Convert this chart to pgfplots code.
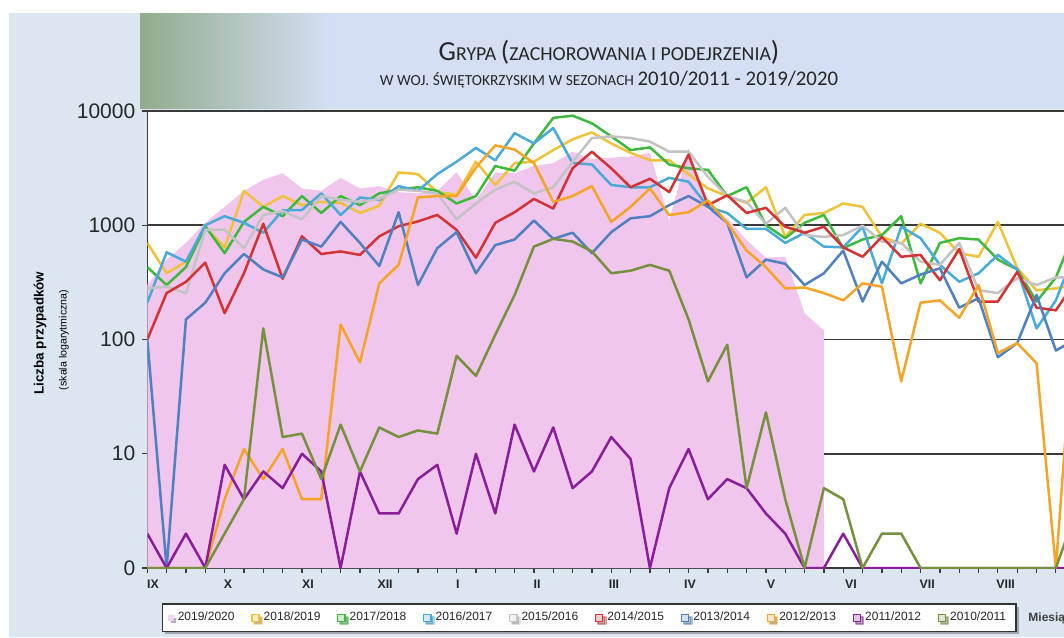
\documentclass[border=0pt]{standalone}
\usepackage{fontspec}
\setmainfont{Liberation Sans}
\newfontfamily\calibri{Carlito}
\usepackage{pgfplots}
\pgfplotsset{compat=1.18}
\usetikzlibrary{shadows}

\definecolor{bgblue}{HTML}{DCE6F1}
\definecolor{bandblue}{HTML}{D4DFF3}
\definecolor{bandgreen}{HTML}{93AA8D}
\definecolor{cPink}{HTML}{F0C6EC}
\definecolor{cYellow}{HTML}{EFC23A}
\definecolor{cGreen}{HTML}{3DB93D}
\definecolor{cCyan}{HTML}{48AAD8}
\definecolor{cGray}{HTML}{C3C3C3}
\definecolor{cRed}{HTML}{D43333}
\definecolor{cBlue}{HTML}{4F80C0}
\definecolor{cOrange}{HTML}{F5A425}
\definecolor{cPurple}{HTML}{8A1E9A}
\definecolor{cOlive}{HTML}{76913E}
\definecolor{gridc}{HTML}{3A3A3A}

\newcommand{\bigA}[1]{{\fontsize{13.8}{15}\selectfont #1}}
\newcommand{\smA}[1]{{\fontsize{9.9}{11}\selectfont #1}}
\newcommand{\bigB}[1]{{\fontsize{10.4}{12}\selectfont #1}}
\newcommand{\smB}[1]{{\fontsize{7.7}{9}\selectfont #1}}

\pgfplotsset{
  sq/.style={legend image code/.code={\draw[draw=#1, fill=#1!25, line width=0.7pt] (0pt,-1.8pt) rectangle (3.6pt,1.8pt);}},
  ser/.style={draw=#1, line width=1.25pt, mark=none, line join=round, sq=#1},
}

\begin{document}
\begin{tikzpicture}
\useasboundingbox (0,0) rectangle (532pt,-318.5pt);
\clip (0,0) rectangle (532pt,-318.5pt);
\fill[white] (0,0) rectangle (532pt,-318.5pt);
\fill[bgblue] (4.5pt,-6.5pt) rectangle (532pt,-318.5pt);
\shade[left color=bandgreen, right color=bandblue] (70pt,-6.5pt) rectangle (165pt,-54pt);
\fill[bandblue] (165pt,-6.5pt) rectangle (532pt,-54pt);

\node[font=\calibri, anchor=base, text=black!85] at (304.5pt,-30pt) {\bigA{G}\smA{RYPA }\bigA{(}\smA{ZACHOROWANIA I PODEJRZENIA}\bigA{)}};
\node[font=\calibri, anchor=base, text=black!85] at (304.5pt,-42.5pt) {\smB{W WOJ. ŚWIĘTOKRZYSKIM W SEZONACH }\bigB{2010/2011 - 2019/2020}};

\node[rotate=90, font=\bfseries\fontsize{6.7}{8}\selectfont] at (20pt,-166.5pt) {Liczba przypadków};
\node[rotate=90, font=\fontsize{5.3}{6}\selectfont] at (32pt,-170pt) {(skala logarytmiczna)};
\node[anchor=west, inner sep=0pt, font=\bfseries\fontsize{6}{7}\selectfont, text=black!75] at (514pt,-309pt) {Miesiąc};

\begin{axis}[
  at={(73.65pt,-284pt)}, anchor=south west,
  scale only axis, width=458.35pt, height=228.5pt,
  xmin=0, xmax=47.42, ymin=1, ymax=10000, ymode=log,
  axis background/.style={fill=white},
  axis x line*=bottom, axis y line*=left,
  axis line style={gridc, line width=0.75pt},
  ymajorgrids, major grid style={gridc, line width=0.75pt},
  yminorticks=false,
  tick align=outside,
  major tick length=2.5pt,
  tick style={gridc, line width=0.6pt},
  xtick={0,...,48}, xticklabels={},
  ytick={1,10,100,1000,10000}, yticklabels={0,10,100,1000,10000},
  yticklabel style={font=\fontsize{10.5}{12}\selectfont, text=black!85},
  /pgf/number format/assume math mode=true,
  extra x ticks={0.3,4.17,8.31,12.3,16.07,20.16,24.14,28.07,32.26,36.4,40.34,44.4},
  extra x tick labels={IX,X,XI,XII,I,II,III,IV,V,VI,VII,VIII},
  extra x tick style={major tick length=0pt, tick label style={font=\bfseries\fontsize{6.2}{7}\selectfont, text=black!85, yshift=-2.5pt}},
  legend columns=10,
  legend style={at={(0.482,-0.109)}, anchor=center, draw=black!80, line width=0.6pt, fill=white,
    font=\fontsize{6}{7}\selectfont, text=black!85,
    drop shadow={shadow xshift=1.3pt, shadow yshift=-1.3pt, fill=black!60},
    /tikz/every odd column/.append style={column sep=0pt},
    /tikz/every even column/.append style={column sep=6.3pt}},
]
% 2019/2020 (area)
\addplot[draw=none, fill=cPink, legend image code/.code={\fill[cPink!80] (0.4pt,-1.4pt) rectangle (3.2pt,1.4pt);}] coordinates {
(0,300)(1,500)(2,700)(3,1050)(4,1450)(5,2000)(6,2500)(7,2850)(8,2100)(9,2000)
(10,2600)(11,2100)(12,2200)(13,1950)(14,1900)(15,2000)(16,2900)(17,1670)(18,2900)(19,2850)
(20,3300)(21,3500)(22,4400)(23,3800)(24,3900)(25,4000)(26,4300)(27,1100)(28,4700)(29,1350)
(30,1150)(31,740)(32,520)(33,530)(34,170)(35,120)} \closedcycle;
\addlegendentry{2019/2020}
% 2018/2019
\addplot[ser=cYellow] coordinates {
(0,700)(1,380)(2,480)(3,970)(4,640)(5,2000)(6,1450)(7,1800)(8,1500)(9,1600)
(10,1570)(11,1280)(12,1480)(13,2900)(14,2800)(15,1950)(16,1850)(17,3600)(18,2250)(19,3500)
(20,3600)(21,4550)(22,5650)(23,6500)(24,5200)(25,4300)(26,3700)(27,3700)(28,2800)(29,2100)
(30,1800)(31,1570)(32,2150)(33,790)(34,1230)(35,1280)(36,1550)(37,1450)(38,790)(39,690)
(40,1030)(41,860)(42,570)(43,530)(44,1070)(45,420)(46,270)(47,280)(48,300)};
\addlegendentry{2018/2019}
% 2017/2018
\addplot[ser=cGreen] coordinates {
(0,430)(1,300)(2,430)(3,980)(4,570)(5,1070)(6,1450)(7,1200)(8,1800)(9,1280)
(10,1800)(11,1500)(12,1900)(13,2050)(14,2150)(15,2000)(16,1550)(17,1800)(18,3300)(19,3000)
(20,5200)(21,8700)(22,9100)(23,7800)(24,6000)(25,4550)(26,4800)(27,3400)(28,3150)(29,3050)
(30,1800)(31,2150)(32,1000)(33,770)(34,1050)(35,1230)(36,630)(37,750)(38,820)(39,1200)
(40,310)(41,700)(42,770)(43,750)(44,500)(45,410)(46,215)(47,350)(48,900)};
\addlegendentry{2017/2018}
% 2016/2017
\addplot[ser=cCyan] coordinates {
(0,210)(1,580)(2,480)(3,1000)(4,1200)(5,1050)(6,860)(7,1350)(8,1360)(9,1900)
(10,1230)(11,1750)(12,1660)(13,2200)(14,2000)(15,2800)(16,3600)(17,4750)(18,3700)(19,6400)
(20,5200)(21,7100)(22,3500)(23,3400)(24,2250)(25,2150)(26,2150)(27,2600)(28,2400)(29,1450)
(30,1280)(31,930)(32,930)(33,700)(34,860)(35,650)(36,640)(37,970)(38,310)(39,970)
(40,770)(41,450)(42,320)(43,380)(44,550)(45,410)(46,125)(47,220)(48,600)};
\addlegendentry{2016/2017}
% 2015/2016
\addplot[ser=cGray] coordinates {
(0,280)(1,290)(2,255)(3,910)(4,910)(5,630)(6,1230)(7,1330)(8,1130)(9,1800)
(10,1670)(11,1600)(12,1700)(13,2050)(14,2000)(15,1900)(16,1130)(17,1550)(18,2050)(19,2400)
(20,1900)(21,2150)(22,3600)(23,5800)(24,6000)(25,5800)(26,5400)(27,4400)(28,4400)(29,2650)
(30,1800)(31,1600)(32,1030)(33,1420)(34,820)(35,790)(36,820)(37,990)(38,720)(39,700)
(40,480)(41,450)(42,700)(43,270)(44,255)(45,345)(46,300)(47,350)(48,350)};
\addlegendentry{2015/2016}
% 2014/2015
\addplot[ser=cRed] coordinates {
(0,100)(1,255)(2,320)(3,470)(4,170)(5,380)(6,1030)(7,340)(8,800)(9,560)
(10,590)(11,550)(12,800)(13,980)(14,1080)(15,1230)(16,910)(17,520)(18,1050)(19,1300)
(20,1700)(21,1400)(22,3150)(23,4400)(24,3150)(25,2150)(26,2550)(27,1950)(28,4150)(29,1500)
(30,1830)(31,1280)(32,1420)(33,970)(34,860)(35,970)(36,640)(37,530)(38,790)(39,530)
(40,550)(41,330)(42,620)(43,215)(44,215)(45,390)(46,190)(47,180)(48,320)};
\addlegendentry{2014/2015}
% 2013/2014
\addplot[ser=cBlue] coordinates {
(0,100)(1,1)(2,150)(3,210)(4,380)(5,560)(6,410)(7,350)(8,750)(9,650)
(10,1070)(11,700)(12,440)(13,1300)(14,300)(15,630)(16,870)(17,380)(18,670)(19,750)
(20,1100)(21,760)(22,860)(23,570)(24,870)(25,1150)(26,1200)(27,1500)(28,1800)(29,1450)
(30,1050)(31,350)(32,500)(33,460)(34,300)(35,380)(36,600)(37,215)(38,480)(39,310)
(40,370)(41,420)(42,190)(43,230)(44,70)(45,93)(46,245)(47,80)(48,100)};
\addlegendentry{2013/2014}
% 2012/2013
\addplot[ser=cOrange] coordinates {
(0,1)(1,1)(2,1)(3,1)(4,4)(5,11)(6,6)(7,11)(8,4)(9,4)
(10,135)(11,63)(12,310)(13,450)(14,1750)(15,1800)(16,1800)(17,3200)(18,5000)(19,4600)
(20,3500)(21,1600)(22,1800)(23,2200)(24,1070)(25,1450)(26,2100)(27,1230)(28,1300)(29,1650)
(30,1050)(31,600)(32,430)(33,280)(34,285)(35,255)(36,220)(37,310)(38,290)(39,43)
(40,210)(41,220)(42,155)(43,300)(44,76)(45,93)(46,62)(47,1)(48,200)};
\addlegendentry{2012/2013}
% 2011/2012
\addplot[ser=cPurple] coordinates {
(0,2)(1,1)(2,2)(3,1)(4,8)(5,4)(6,7)(7,5)(8,10)(9,7)
(10,1)(11,7)(12,3)(13,3)(14,6)(15,8)(16,2)(17,10)(18,3)(19,18)
(20,7)(21,17)(22,5)(23,7)(24,14)(25,9)(26,1)(27,5)(28,11)(29,4)
(30,6)(31,5)(32,3)(33,2)(34,1)(35,1)(36,2)(37,1)(38,1)(39,1)
(40,1)(41,1)(42,1)(43,1)(44,1)(45,1)(46,1)(47,1)(48,1)};
\addlegendentry{2011/2012}
% 2010/2011
\addplot[ser=cOlive] coordinates {
(0,1)(1,1)(2,1)(3,1)(4,2)(5,4)(6,125)(7,14)(8,15)(9,6)
(10,18)(11,7)(12,17)(13,14)(14,16)(15,15)(16,72)(17,48)(18,110)(19,245)
(20,650)(21,760)(22,720)(23,590)(24,380)(25,400)(26,450)(27,400)(28,150)(29,43)
(30,90)(31,5)(32,23)(33,4)(34,1)(35,5)(36,4)(37,1)(38,2)(39,2)
(40,1)(41,1)(42,1)(43,1)(44,1)(45,1)(46,1)(47,1)(48,3)};
\addlegendentry{2010/2011}
\end{axis}
\end{tikzpicture}
\end{document}
